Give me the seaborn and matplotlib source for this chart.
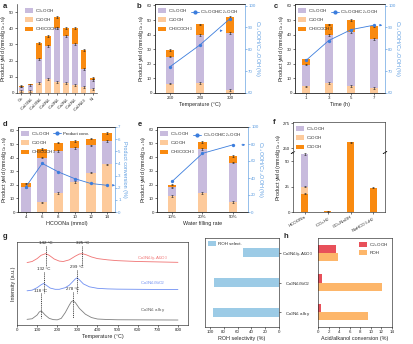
import numpy as np
import pandas as pd
import matplotlib
matplotlib.use("Agg")
import matplotlib.pyplot as plt
import seaborn as sns
from matplotlib.patches import Patch
from matplotlib.lines import Line2D

# ---------------- data ----------------
cats_a = ["Co", "Co$_{15}$Ni$_1$", "Co$_{10}$Ni$_1$", "Co$_5$Ni$_1$", "Co$_3$Ni$_1$",
          "Co$_2$Ni$_1$", "Co$_1$Ni$_1$", "Co$_1$Ni$_{10}$", "Ni"]
a_c2 = [1.5, 1.5, 6, 8.5, 7, 6, 5, 3.5, 2.5]
a_c3 = [2.5, 3.5, 15, 20.5, 33, 29, 25, 11.5, 5.5]
a_ace = [0.5, 0.3, 10, 6, 7, 5, 10, 11.5, 1]

cats_b = ["260", "280", "300"]
b_c2 = [6.5, 7, 2]
b_c3 = [18.5, 33, 39]
b_ace = [4.5, 7, 11]
b_ratio = [72, 82, 94]

cats_c = ["1", "3", "5", "7"]
c_c2 = [4.5, 7, 5, 3.5]
c_c3 = [15, 33, 37, 33.5]
c_ace = [3.5, 7, 8, 9]
c_ratio = [75, 84, 89, 91]

cats_d = ["4", "6", "8", "10", "12", "14"]
d_c2 = [0, 7, 14, 22, 29, 35]
d_c3 = [18.5, 33, 31, 25, 20, 17]
d_ace = [2.5, 6.5, 6, 5, 5, 6]
d_conv = [2.1, 4.0, 3.3, 2.75, 2.35, 2.2]

cats_e = ["10%", "20%", "50%"]
e_c2 = [11.5, 14, 7.5]
e_c3 = [6.5, 32, 28.5]
e_ace = [2, 5, 5]
e_ratio = [36, 69, 79]

cats_f = ["HCOONa", "CO+H$_2$", "CO+NaOH", "NaHCO$_3$+H$_2$"]
f_c1 = [18, 0.8, 256, 24]
f_c2 = [7, 0, 0, 0]
f_c3 = [32, 0, 0, 0]

g_x_al = [50, 75, 100, 120, 142, 160, 185, 210, 230, 260, 290, 310, 325, 345, 370, 400, 450, 500, 600, 700, 800]
g_y_al = [7.52, 7.65, 8.0, 8.4, 8.6, 8.4, 7.95, 7.7, 7.65, 7.85, 8.3, 8.55, 8.6, 8.45, 8.2, 8.0, 7.85, 7.75, 7.65, 7.6, 7.55]
g_x_si = [50, 75, 100, 120, 132, 145, 165, 190, 210, 240, 260, 280, 290, 299, 310, 330, 360, 400, 450, 500, 600, 700, 800]
g_y_si = [4.12, 4.2, 4.5, 4.85, 5.0, 4.8, 4.45, 4.3, 4.3, 4.5, 4.8, 5.3, 5.55, 5.68, 5.45, 4.95, 4.6, 4.42, 4.35, 4.32, 4.3, 4.28, 4.28]
g_x_al2 = [50, 75, 100, 110, 118, 125, 140, 160, 180, 200, 220, 240, 260, 270, 278, 290, 310, 340, 370, 400, 450, 500, 600, 700, 800]
g_y_al2 = [0.68, 0.75, 1.2, 1.55, 1.68, 1.6, 1.2, 0.8, 0.65, 0.62, 0.8, 1.5, 2.4, 2.8, 2.92, 2.7, 2.0, 1.3, 0.9, 0.72, 0.66, 0.63, 0.62, 0.61, 0.6]
g_peaks = [(142, "142 °C"), (325, "325 °C"), (132, "132 °C"), (299, "299 °C"), (118, "118 °C"), (278, "278 °C")]

cats_h = ["Co$_3$Ni$_1$/γ-Al$_2$O$_3$", "Co$_3$Ni$_1$/SiO$_2$", "Co$_3$Ni$_1$ alloy"]
h_sel = [52, 94, 95]
h_acid = [3.5, 0.8, 0.6]
h_roh = [3.8, 12.1, 9.4]

# ---------------- style ----------------
sns.set_style("ticks")
plt.rcParams["font.family"] = ["Liberation Sans", "DejaVu Sans"]
plt.rcParams.update({
    "mathtext.fontset": "custom",
    "mathtext.rm": "Liberation Sans",
    "mathtext.it": "Liberation Sans:italic",
    "mathtext.bf": "Liberation Sans:bold",
    "font.size": 3.2,
    "axes.labelsize": 3.9,
    "xtick.labelsize": 3.2,
    "ytick.labelsize": 3.2,
    "legend.fontsize": 3.2,
    "axes.linewidth": 0.45,
    "xtick.major.width": 0.45,
    "ytick.major.width": 0.45,
    "xtick.major.size": 1.3,
    "ytick.major.size": 1.3,
    "xtick.major.pad": 1.0,
    "ytick.major.pad": 1.0,
    "axes.labelpad": 1.0,
})

PURPLE = "#c8bbdd"
LIGHT = "#fdca9b"
ORANGE = "#f98a10"
BLUE = "#3b7ddd"
AXBLUE = "#5a9be0"
FS = 3.2

W, H = 414, 344
fig = plt.figure(figsize=(W / 100, H / 100), dpi=100)


def box(l, r, t, b):
    return [l / W, 1 - b / H, (r - l) / W, (b - t) / H]


def stacked(ax, cats, segs, colors, width):
    segs = np.array(segs, dtype=float)
    cum = np.cumsum(segs, axis=0)
    for i in reversed(range(len(segs))):
        sns.barplot(x=cats, y=cum[i], color=colors[i], width=width, ax=ax,
                    saturation=1, order=cats, linewidth=0)
    n = len(cats)
    for i in range(len(segs)):
        idx = [k for k in range(n) if segs[i][k] > 0.4]
        ax.errorbar(np.array(idx), cum[i][idx], yerr=0.6, fmt="none", ecolor="#222222",
                    elinewidth=0.4, capsize=0.8, capthick=0.4)
    ax.set_xlim(-0.5, n - 0.5)


def bar_legend(ax, labels, colors, loc="upper left", bbox=(0.0, 1.0)):
    handles = [Patch(facecolor=c, edgecolor="none") for c in colors]
    ax.legend(handles, labels, loc=loc, bbox_to_anchor=bbox, frameon=False,
              handlelength=1.8, handleheight=1.2, labelspacing=0.35, handletextpad=0.5,
              borderaxespad=0.3)


def line_legend(ax, label, bbox):
    h = Line2D([0], [0], color=BLUE, marker="o", markersize=2, lw=0.6)
    leg = ax.legend([h], [label], loc="upper left", bbox_to_anchor=bbox, frameon=False,
                    handlelength=1.8, handletextpad=0.4, borderaxespad=0.3)
    return leg


def twin_line(ax, vals, ylim, ticks, label):
    ax2 = ax.twinx()
    sns.lineplot(x=np.arange(len(vals)), y=vals, ax=ax2, color=BLUE, marker="o",
                 markersize=2.4, markeredgewidth=0, linewidth=0.6)
    ax2.set_ylim(*ylim)
    ax2.set_yticks(ticks)
    ax2.set_ylabel(label, rotation=270, labelpad=4.5, color=AXBLUE)
    ax2.tick_params(axis="y", colors=AXBLUE)
    ax2.spines["right"].set_color(AXBLUE)
    ax.spines["right"].set_visible(False)
    ax.set_xlim(-0.5, len(vals) - 0.5)
    return ax2


YL = "Product yield (mmol/g$_{\\rm Co+Ni}$)"
RL = "C$_{3+}$OOH/C$_{2+}$OOH (%)"
leg3 = ["C$_{3+}$OOH", "C$_2$OOH", "CH$_3$COCH$_3$"]

# ---------------- a ----------------
ax = fig.add_axes(box(17, 97, 4, 93))
stacked(ax, cats_a, [a_c2, a_c3, a_ace], [LIGHT, PURPLE, ORANGE], 0.62)
ax.set_ylim(0, 55)
ax.set_yticks(range(0, 51, 10))
ax.set_ylabel(YL)
ax.set_xlabel("")
ax.set_xticks(range(len(cats_a)))
ax.set_xticklabels(cats_a, rotation=45, ha="right", rotation_mode="anchor")
ax.spines["top"].set_visible(False)
ax.spines["right"].set_visible(False)
bar_legend(ax, leg3, [PURPLE, LIGHT, ORANGE], bbox=(0.06, 1.0))

# ---------------- b ----------------
ax = fig.add_axes(box(155, 245, 4, 93))
stacked(ax, cats_b, [b_c2, b_c3, b_ace], [LIGHT, PURPLE, ORANGE], 0.28)
ax.set_ylim(0, 61)
ax.set_yticks(range(0, 61, 10))
ax.set_ylabel(YL)
ax.set_xlabel("Temperature (°C)")
bar_legend(ax, leg3, [PURPLE, LIGHT, ORANGE])
ax2 = twin_line(ax, b_ratio, (60, 100.7), range(60, 101, 10), RL)
line_legend(ax2, "C$_{3+}$OOH/C$_{2+}$OOH", (0.36, 0.98))
ax2.annotate("", xy=(1.85, 88.5), xytext=(1.6, 88.5),
             arrowprops=dict(arrowstyle="-|>", color=BLUE, lw=0.5, mutation_scale=3))

# ---------------- c ----------------
ax = fig.add_axes(box(295, 385, 4, 93))
stacked(ax, cats_c, [c_c2, c_c3, c_ace], [LIGHT, PURPLE, ORANGE], 0.36)
ax.set_ylim(0, 61)
ax.set_yticks(range(0, 61, 10))
ax.set_ylabel(YL)
ax.set_xlabel("Time (h)")
bar_legend(ax, leg3, [PURPLE, LIGHT, ORANGE])
ax2 = twin_line(ax, c_ratio, (60, 100.7), range(60, 101, 10), RL)
line_legend(ax2, "C$_{3+}$OOH/C$_{2+}$OOH", (0.36, 0.98))
ax2.annotate("", xy=(3.5, 91), xytext=(3.15, 91),
             arrowprops=dict(arrowstyle="-|>", color=BLUE, lw=0.5, mutation_scale=3))

# ---------------- d ----------------
ax = fig.add_axes(box(18, 115, 127, 212))
stacked(ax, cats_d, [d_c2, d_c3, d_ace], [LIGHT, PURPLE, ORANGE], 0.6)
ax.set_ylim(0, 62.5)
ax.set_yticks(range(0, 61, 10))
ax.set_ylabel(YL)
ax.set_xlabel("HCOONa (mmol)")
bar_legend(ax, leg3, [PURPLE, LIGHT, ORANGE])
ax2 = twin_line(ax, d_conv, (0, 7), range(0, 8), "Product conversion (%)")
line_legend(ax2, "Product conv.", (0.33, 0.98))
ax2.annotate("", xy=(5.5, 2.2), xytext=(5.2, 2.2),
             arrowprops=dict(arrowstyle="-|>", color=BLUE, lw=0.5, mutation_scale=3))

# ---------------- e ----------------
ax = fig.add_axes(box(157, 248, 127, 212))
stacked(ax, cats_e, [e_c2, e_c3, e_ace], [LIGHT, PURPLE, ORANGE], 0.28)
ax.set_ylim(0, 62)
ax.set_yticks(range(0, 61, 10))
ax.set_ylabel(YL)
ax.set_xlabel("Water filling rate")
bar_legend(ax, leg3, [PURPLE, LIGHT, ORANGE])
ax2 = twin_line(ax, e_ratio, (0, 100), range(0, 101, 20), RL)
line_legend(ax2, "C$_{3+}$OOH/C$_{2+}$OOH", (0.36, 0.98))
ax2.annotate("", xy=(2.5, 79), xytext=(2.2, 79),
             arrowprops=dict(arrowstyle="-|>", color=BLUE, lw=0.5, mutation_scale=3))

# ---------------- f (broken axis) ----------------
lo_top, hi_bot = 58.5, 246
ftop, fbot = 122, 212
total = lo_top + (276 - hi_bot)
split = fbot - (fbot - ftop) * lo_top / total
axl = fig.add_axes(box(293, 385, split, fbot))
axu = fig.add_axes(box(293, 385, ftop, split))
for a_ in (axl, axu):
    stacked(a_, cats_f, [f_c1, f_c2, f_c3], [ORANGE, LIGHT, PURPLE], 0.33)
    a_.set_xlabel("")
    a_.set_ylabel("")
axl.set_ylim(0, lo_top)
axl.set_yticks([0, 25, 50])
axu.set_ylim(hi_bot, 276)
axu.set_yticks([250, 275])
axl.spines["top"].set_visible(False)
axu.spines["bottom"].set_visible(False)
axu.tick_params(axis="x", bottom=False, labelbottom=False)
axl.set_xticks(range(4))
axl.set_xticklabels(cats_f, rotation=30, ha="right", rotation_mode="anchor")
bk = dict(color="k", lw=0.45, clip_on=False)
d = 0.02
for xx in (0, 1):
    axl.plot([xx - d, xx + d], [1 - 0.02, 1 + 0.02], transform=axl.transAxes, **bk)
    axu.plot([xx - d, xx + d], [-0.03, 0.03], transform=axu.transAxes, **bk)
fig.text(279 / W, 1 - 167 / H, YL, rotation=90, ha="center", va="center", fontsize=3.9)
handles = [Patch(facecolor=c, edgecolor="none") for c in (PURPLE, LIGHT, ORANGE)]
axu.legend(handles, ["C$_{3+}$OOH", "C$_2$OOH", "C$_1$OOH"], loc="upper left",
           bbox_to_anchor=(0.0, 1.0), frameon=False, handlelength=1.8, handleheight=1.2,
           labelspacing=0.35, handletextpad=0.5, borderaxespad=0.3)

# ---------------- g ----------------
ax = fig.add_axes(box(17, 188, 242, 325))
RED_G, BLUE_G, GRAY_G = "#f07272", "#6f8ff2", "#7f7f7f"
sns.lineplot(x=g_x_al, y=g_y_al, ax=ax, color=RED_G, lw=0.6)
sns.lineplot(x=g_x_si, y=g_y_si, ax=ax, color=BLUE_G, lw=0.6)
sns.lineplot(x=g_x_al2, y=g_y_al2, ax=ax, color=GRAY_G, lw=0.6)
ax.set_xlim(0, 850)
ax.set_ylim(0, 10)
ax.set_yticks([])
ax.set_xticks(range(0, 801, 100))
ax.set_xlabel("Temperature (°C)")
ax.set_ylabel("Intensity (a.u.)")
label_y = [9.6, 9.6, 6.45, 6.7, 3.9, 4.05]
base_y = [7.1, 7.1, 3.9, 3.9, 0.8, 0.8]
for (xp, txt), ly, by in zip(g_peaks, label_y, base_y):
    ax.text(xp, ly, txt, ha="center", va="bottom", fontsize=FS)
    ax.plot([xp, xp], [ly - 0.1, by], ls=(0, (1.5, 1.2)), color="k", lw=0.5)
ax.text(675, 8.1, "Co$_3$Ni$_1$/γ-Al$_2$O$_3$", color=RED_G, ha="center", va="center", fontsize=FS)
ax.text(675, 5.0, "Co$_3$Ni$_1$/SiO$_2$", color=BLUE_G, ha="center", va="center", fontsize=FS)
ax.text(675, 1.8, "Co$_3$Ni$_1$ alloy", color="#555555", ha="center", va="center", fontsize=FS)

# ---------------- h ----------------
axhl = fig.add_axes(box(205, 279, 238, 327))
sns.barplot(x=h_sel, y=cats_h, orient="h", color="#9ccbe6", width=0.3, ax=axhl, saturation=1,
            linewidth=0)
axhl.set_xlim(107, 0)
axhl.set_xticks(range(100, -1, -20))
axhl.set_xlabel("ROH selectivity (%)")
axhl.set_ylabel("")
axhl.yaxis.tick_right()
axhl.set_yticklabels([])
axhl.legend([Patch(facecolor="#9ccbe6", edgecolor="none")], ["ROH select."], loc="upper left",
            frameon=False, handlelength=1.8, handleheight=1.2, handletextpad=0.5, borderaxespad=0.3)

axhr = fig.add_axes(box(318, 392, 238, 327))
dfh = pd.DataFrame({"cat": cats_h * 2,
                    "series": ["C$_{2+}$OOH"] * 3 + ["ROH"] * 3,
                    "val": h_acid + h_roh})
sns.barplot(data=dfh, y="cat", x="val", hue="series", orient="h",
            palette=["#e8505a", "#fdb66a"], width=0.55, ax=axhr, saturation=1, legend=False,
            linewidth=0)
axhr.set_xlim(0, 14)
axhr.set_xticks(range(0, 15, 2))
axhr.set_xlabel("Acid/alkanol conversion (%)")
axhr.set_ylabel("")
axhr.tick_params(axis="y", length=0, pad=14.5)
for t in axhr.get_yticklabels():
    t.set_horizontalalignment("center")
axhr.legend([Patch(facecolor="#e8505a", edgecolor="none"), Patch(facecolor="#fdb66a", edgecolor="none")],
            ["C$_{2+}$OOH", "ROH"], loc="upper right", frameon=False, handlelength=1.8,
            handleheight=1.2, handletextpad=0.5, labelspacing=0.35, borderaxespad=0.3)

# ---------------- panel letters ----------------
for lt, x, y in [("a", 3, 6), ("b", 137, 6), ("c", 274, 6), ("d", 3, 125), ("e", 138, 125),
                 ("f", 273, 122), ("g", 3, 236), ("h", 283, 236)]:
    fig.text(x / W, 1 - y / H, lt, fontsize=5.5, fontweight="bold", ha="left", va="center")

fig.savefig("out.png", dpi=100)
